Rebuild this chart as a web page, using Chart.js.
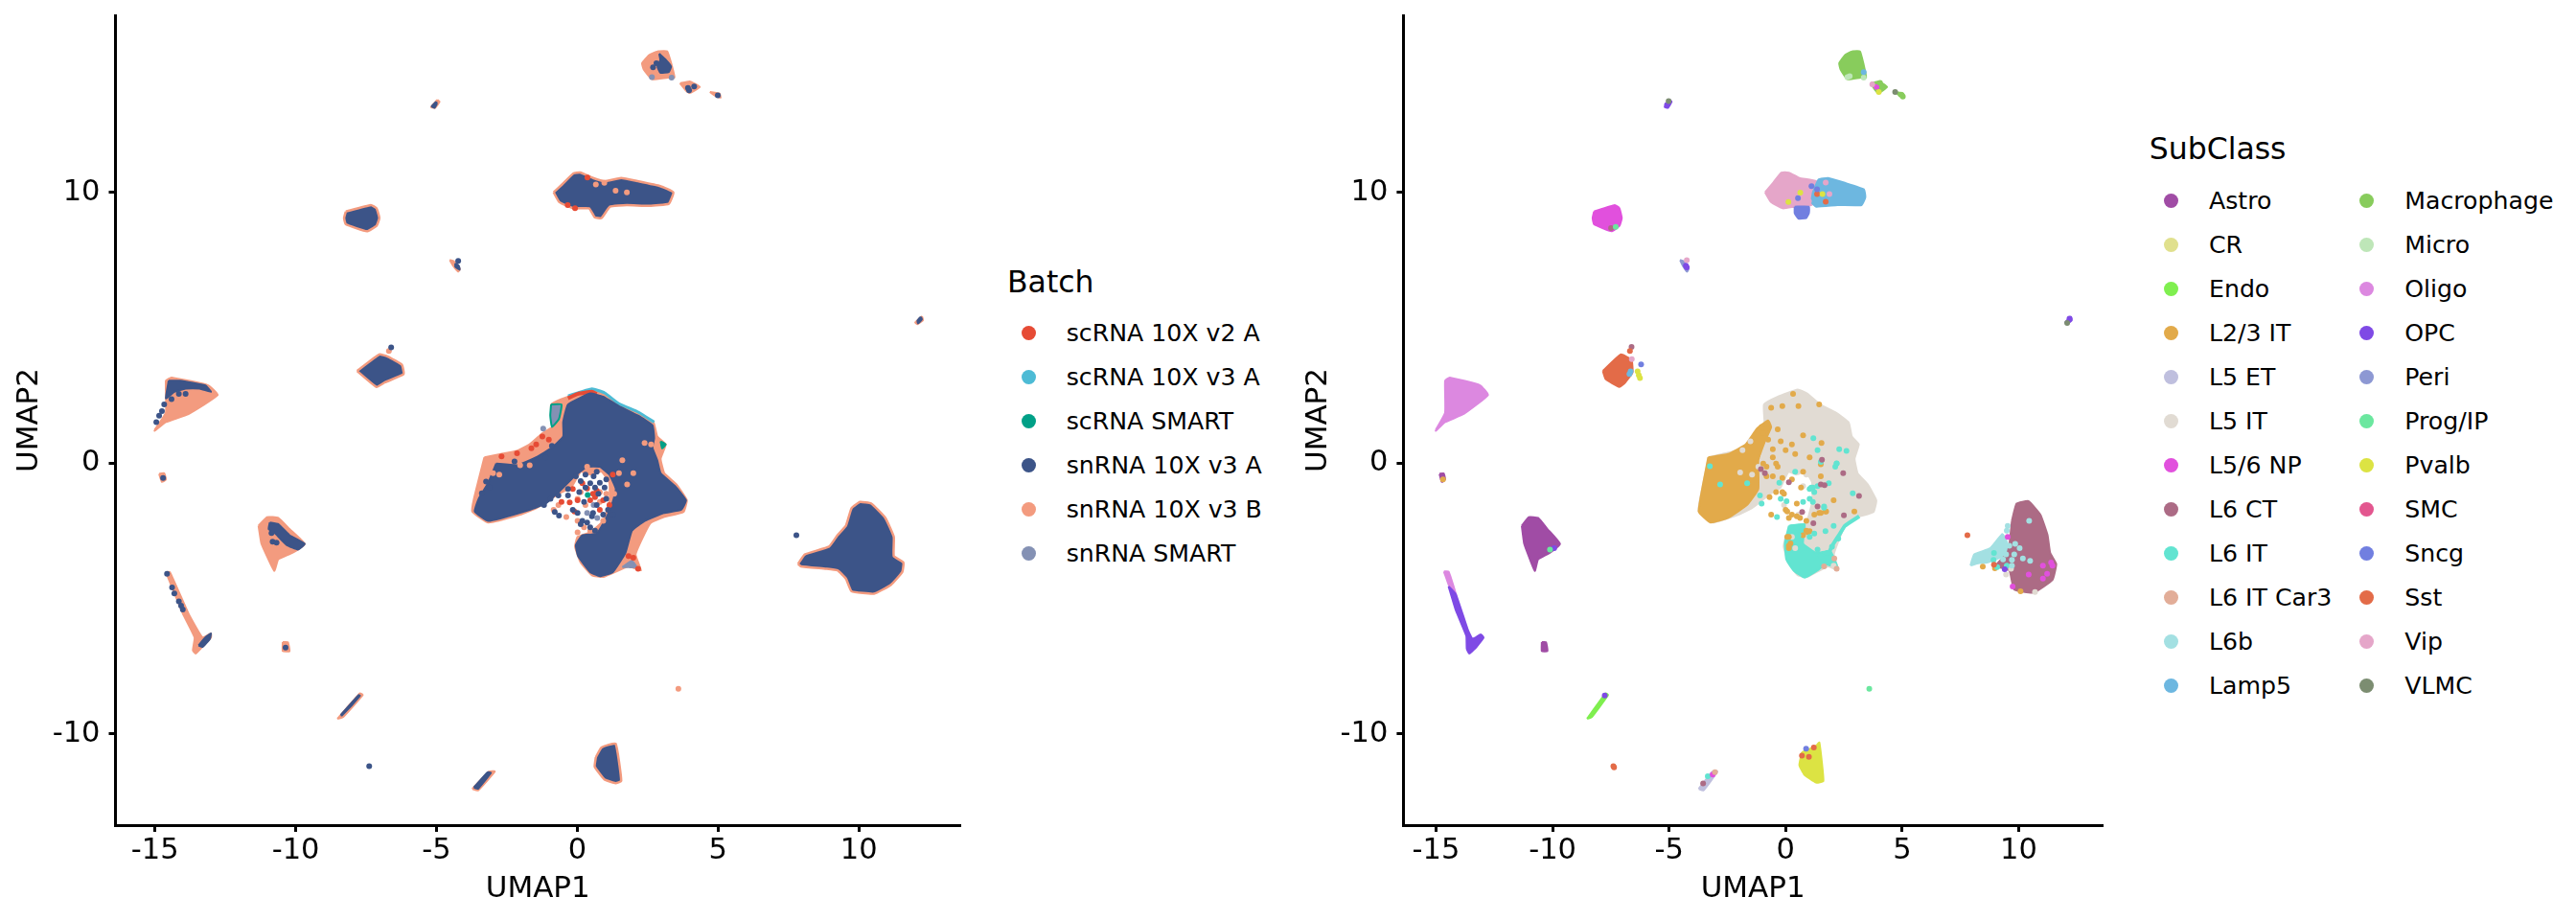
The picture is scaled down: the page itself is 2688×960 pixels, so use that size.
<!DOCTYPE html>
<html>
<head>
<meta charset="utf-8">
<title>UMAP by Batch and SubClass</title>
<script src="https://cdn.jsdelivr.net/npm/chart.js@4"></script>
<style>
  html, body { margin: 0; padding: 0; background: #fff; width: 2688px; height: 960px; overflow: hidden; }
  body { position: relative; font-family: "DejaVu Sans", sans-serif; color: #000; }
  canvas { position: absolute; top: 0; }
  .legend-title { position: absolute; font-size: 31.5px; line-height: 36px; white-space: nowrap; }
  .legend-dot { position: absolute; width: 15px; height: 15px; border-radius: 50%; }
  .legend-label { position: absolute; font-size: 25.2px; line-height: 30px; white-space: nowrap; }
</style>
</head>
<body>
<canvas id="batchChart" width="1040" height="960" style="left:0"></canvas>
<canvas id="subclassChart" width="880" height="960" style="left:1340px"></canvas>
<script>
// --- Categories and colours ---
const batchNames = ['scRNA 10X v2 A', 'scRNA 10X v3 A', 'scRNA SMART', 'snRNA 10X v3 A', 'snRNA 10X v3 B', 'snRNA SMART'];
const batchColors = ['#E64B35', '#4DBBD5', '#00A087', '#3C5488', '#F39B7F', '#8491B4'];
const subclassNames = ['Astro', 'CR', 'Endo', 'L2/3 IT', 'L5 ET', 'L5 IT', 'L5/6 NP', 'L6 CT', 'L6 IT', 'L6 IT Car3', 'L6b', 'Lamp5',
  'Macrophage', 'Micro', 'Oligo', 'OPC', 'Peri', 'Prog/IP', 'Pvalb', 'SMC', 'Sncg', 'Sst', 'Vip', 'VLMC'];
const subclassColors = ['#A04CA5', '#E0E08D', '#7FEF4F', '#E2AA4A', '#BFBFDE', '#E1DBD3', '#E150DD', '#AC6B85', '#62E4D1', '#E2AD98', '#A3E0E2', '#6DB7E0',
  '#88CC5C', '#BEE6B8', '#DC88E0', '#7F4AE5', '#8D98D3', '#6BE79F', '#DCE343', '#E3568F', '#717FE0', '#E36B48', '#E5A6C9', '#7C8D71'];
const xTickValues = [-15, -10, -5, 0, 5, 10];
const yTickValues = [-10, 0, 10];

// --- Cluster outlines, in UMAP units ---
const mainOuter = [[-3.30,0.22],[-2.71,0.34],[-2.14,0.46],[-1.69,0.70],[-1.24,1.11],[-0.90,1.34],[-0.93,2.17],[-0.33,2.46],[0.52,2.72],[0.92,2.58],[1.48,2.17],[2.16,1.87],[2.71,1.50],[2.84,0.99],[3.14,0.70],[2.96,0.17],[3.09,-0.37],[3.52,-0.78],[3.89,-1.37],[3.77,-1.80],[3.07,-1.99],[2.62,-2.19],[2.39,-2.60],[2.07,-3.37],[2.26,-3.96],[1.82,-3.81],[0.92,-4.20],[0.52,-4.14],[0.12,-3.67],[-0.08,-3.08],[0.01,-2.72],[0.46,-2.55],[0.92,-2.13],[1.14,-1.43],[1.14,-0.72],[0.86,-0.31],[0.46,-0.42],[0.12,-0.31],[-0.22,-0.90],[-0.67,-1.13],[-1.01,-1.37],[-1.46,-1.66],[-2.03,-1.90],[-3.16,-2.19],[-3.73,-1.78],[-3.67,-1.31]];
const mainBlue = [[-2.88,-0.01],[-2.14,-0.07],[-1.46,0.22],[-0.90,0.58],[-0.50,0.99],[-0.50,1.52],[-0.33,2.17],[0.46,2.58],[0.92,2.46],[1.48,2.11],[2.16,1.76],[2.67,1.40],[2.73,0.93],[2.67,0.58],[2.84,0.11],[2.96,-0.37],[3.47,-0.84],[3.86,-1.37],[3.69,-1.72],[3.07,-1.84],[2.39,-2.13],[1.94,-2.49],[1.71,-3.31],[1.26,-4.02],[0.80,-4.17],[0.46,-4.02],[0.03,-3.43],[-0.05,-3.02],[0.18,-2.66],[0.69,-2.60],[1.03,-2.02],[1.26,-1.43],[1.37,-0.95],[1.14,-0.42],[0.80,-0.13],[0.35,-0.13],[-0.10,-0.48],[-0.67,-1.07],[-1.12,-1.49],[-1.69,-1.72],[-3.16,-2.13],[-3.64,-1.78],[-3.50,-1.31],[-3.16,-0.72]];
const mainGreyTop = [[-0.93,2.17],[-0.56,2.17],[-0.65,1.64],[-0.90,1.34],[-0.96,1.77]];
const mainGreyTail = [[1.60,-3.84],[1.94,-3.61],[2.11,-3.84],[1.82,-3.84]];
const mainTealPatch = [[2.96,0.81],[3.14,0.70],[3.01,0.55]];
const mainRedRim = [[-0.33,2.40],[0.01,2.56],[0.52,2.64],[0.69,2.56]];
const mainCyanRim = [[-0.33,2.49],[0.52,2.75],[0.97,2.60],[1.48,2.20],[2.16,1.89],[2.73,1.52]];
const l23Region = [[-3.32,0.22],[-2.47,0.34],[-1.71,0.70],[-1.23,1.28],[-0.75,1.58],[-0.62,1.34],[-0.89,0.81],[-1.17,0.11],[-1.17,-0.95],[-1.65,-1.54],[-2.47,-2.02],[-3.22,-2.19],[-3.73,-1.78]];
const l6itRegion = [[0.14,-2.31],[0.82,-2.25],[0.75,-2.96],[1.30,-3.31],[1.92,-3.25],[2.22,-3.84],[1.71,-3.73],[1.37,-3.96],[0.82,-4.23],[0.34,-3.96],[0.03,-3.55],[-0.03,-2.96]];
const l6itRim = [[3.16,-1.96],[2.54,-2.31],[2.33,-2.60],[2.06,-2.96],[1.85,-3.31]];
const inhibOuter = [[-0.84,10.01],[-0.54,10.30],[-0.14,10.71],[0.10,10.74],[0.56,10.54],[0.96,10.42],[1.56,10.54],[2.16,10.42],[2.95,10.24],[3.41,10.01],[3.25,9.59],[2.55,9.51],[1.76,9.54],[1.16,9.48],[0.86,9.06],[0.62,9.09],[0.42,9.42],[-0.14,9.42],[-0.64,9.65]];
const vipRegion = [[-0.88,10.01],[-0.53,10.37],[-0.18,10.74],[0.14,10.74],[0.59,10.54],[1.31,10.42],[1.41,10.01],[1.11,9.54],[0.39,9.48],[-0.12,9.42],[-0.63,9.65]];
const lamp5Region = [[1.17,10.01],[1.41,10.48],[1.82,10.54],[2.54,10.36],[3.36,10.12],[3.42,9.83],[3.26,9.54],[2.23,9.54],[1.31,9.48],[1.11,9.65]];
const sncgRegion = [[0.39,9.48],[1.0,9.48],[1.0,9.25],[0.88,9.06],[0.55,9.04],[0.39,9.24]];
const macroOuter = [[2.85,15.22],[3.19,15.22],[3.35,14.72],[3.45,14.25],[3.21,14.25],[2.65,14.19],[2.36,14.55],[2.30,14.78],[2.55,15.08]];
const macroBlue = [[2.91,15.13],[3.15,14.90],[3.33,14.66],[3.25,14.46],[2.95,14.43],[2.85,14.66],[2.95,14.90]];
const macroSmallA = [[3.65,14.04],[3.99,14.11],[4.35,13.90],[3.99,13.68],[3.85,13.78]];
const macroSmallB = [[4.71,13.72],[5.05,13.66],[5.09,13.51],[4.91,13.57]];
const opcTopOuter = [[-4.97,13.43],[-4.89,13.36],[-5.05,13.13],[-5.19,13.16]];
const opcTopBlue = [[-5.01,13.36],[-4.99,13.28],[-5.07,13.13],[-5.17,13.19]];
const npOuter = [[-8.22,9.30],[-7.33,9.54],[-7.13,9.42],[-7.03,9.06],[-7.13,8.77],[-7.47,8.57],[-8.22,8.83],[-8.28,9.06]];
const periOuter = [[-4.53,7.51],[-4.39,7.47],[-4.17,7.18],[-4.23,7.08],[-4.41,7.30]];
const periBlue = [[-4.33,7.39],[-4.21,7.30],[-4.17,7.15],[-4.33,7.26]];
const farOuter = [[12.24,5.43],[12.28,5.29],[12.08,5.14],[12.0,5.2]];
const farBlue = [[12.2,5.41],[12.24,5.32],[12.1,5.17],[12.08,5.27]];
const sstOuter = [[-7.82,3.41],[-7.03,4.02],[-6.73,3.94],[-6.23,3.64],[-6.17,3.29],[-6.83,2.99],[-7.13,2.82]];
const sstRegion = [[-7.84,3.41],[-7.08,4.02],[-6.61,3.82],[-6.57,3.35],[-6.88,2.99],[-7.13,2.82],[-7.72,3.11]];
const oligoOuter = [[-15.01,1.23],[-14.61,1.87],[-14.61,3.05],[-14.41,3.17],[-13.11,2.88],[-12.77,2.52],[-13.81,1.82],[-14.61,1.52],[-15.01,1.20]];
const oligoBlue = [[-14.51,3.05],[-14.11,3.05],[-13.21,2.88],[-13.01,2.64],[-13.41,2.76],[-13.91,2.76],[-14.31,2.64],[-14.61,2.40]];
const l6ctOuter = [[7.84,-3.72],[8.08,-3.37],[8.94,-3.08],[9.24,-2.66],[9.54,-2.31],[9.74,-1.66],[10.04,-1.43],[10.44,-1.49],[10.94,-2.02],[11.24,-2.72],[11.24,-3.43],[11.58,-3.67],[11.54,-4.02],[11.14,-4.49],[10.54,-4.82],[9.74,-4.73],[9.54,-4.26],[9.24,-3.96],[8.84,-3.90],[7.94,-3.81]];
const l6ctRegion = [[9.71,-2.13],[9.91,-1.49],[10.42,-1.40],[10.93,-1.90],[11.24,-2.66],[11.35,-3.31],[11.61,-3.72],[11.45,-4.31],[10.63,-4.78],[9.81,-4.67],[9.60,-3.96],[9.0,-3.80],[9.25,-3.55],[9.50,-3.35],[9.60,-3.02]];
const l6bRegion = [[7.93,-3.78],[8.09,-3.37],[8.78,-3.14],[9.30,-2.61],[9.46,-2.84],[9.60,-3.20],[9.19,-3.49],[8.64,-3.67],[8.30,-3.69]];
const astroOuter = [[-11.32,-2.31],[-11.02,-1.99],[-10.62,-2.02],[-10.22,-2.43],[-9.68,-2.98],[-10.12,-3.31],[-10.62,-3.55],[-10.76,-3.98],[-11.02,-3.43],[-11.22,-2.96]];
const astroBlue = [[-10.92,-2.19],[-10.62,-2.25],[-10.22,-2.66],[-9.68,-2.98],[-9.92,-3.19],[-10.32,-3.02],[-10.72,-2.60],[-10.96,-2.43]];
const streakOuter = [[-14.61,-4.02],[-14.47,-4.02],[-13.81,-5.55],[-13.31,-6.44],[-13.01,-6.29],[-13.01,-6.44],[-13.21,-6.67],[-13.55,-7.03],[-13.65,-6.91],[-13.59,-6.44],[-14.01,-5.55]];
const streakBlue = [[-13.45,-6.73],[-13.21,-6.44],[-13.01,-6.29],[-13.05,-6.49],[-13.31,-6.79]];
const streakOligo = [[-14.66,-4.0],[-14.46,-4.0],[-14.11,-4.96],[-14.35,-4.73]];
const streakOpc = [[-14.46,-4.55],[-14.15,-4.84],[-13.64,-6.14],[-13.43,-6.49],[-13.08,-6.32],[-12.96,-6.44],[-13.33,-6.85],[-13.58,-7.03],[-13.68,-6.85],[-13.70,-6.38],[-14.15,-5.43]];
const tinyAstroA = [[-14.85,-0.39],[-14.67,-0.37],[-14.61,-0.60],[-14.75,-0.69]];
const tinyAstroB = [[-10.46,-6.61],[-10.28,-6.61],[-10.22,-6.94],[-10.46,-6.94]];
const endoOuter = [[-8.52,-9.44],[-7.72,-8.50],[-7.62,-8.56],[-8.32,-9.38]];
const endoBlue = [[-8.40,-9.30],[-7.76,-8.56],[-7.72,-8.59],[-8.36,-9.32]];
const l5etOuter = [[-3.73,-12.03],[-3.13,-11.39],[-2.93,-11.39],[-3.53,-12.09]];
const l5etBlue = [[-3.67,-11.98],[-3.19,-11.42],[-3.07,-11.44],[-3.53,-12.03]];
const pvalbOuter = [[0.66,-10.86],[0.86,-10.50],[1.36,-10.36],[1.56,-11.74],[1.36,-11.82],[0.96,-11.68],[0.62,-11.21]];
const pvalbRegion = [[0.70,-10.68],[1.31,-10.44],[1.45,-10.32],[1.62,-11.74],[1.31,-11.80],[0.80,-11.50],[0.59,-11.15]];

// --- Loose cells, in UMAP units ---
const batchBlueDots = [[-0.05,-0.48],[0.12,-0.66],[0.29,-0.90],[0.63,-0.90],[0.46,-0.74],[0.80,-0.72],[0.97,-0.90],[1.03,-0.60],[0.69,-0.31],[-0.80,-1.80],[-0.65,-1.93],[-0.16,-1.72],[0.01,-1.84],[0.18,-2.13],[0.35,-2.19],[0.56,-1.84],[0.69,-1.54],[1.03,-1.31],[-0.33,-0.95],[-0.67,-1.19],[-1.18,-1.54],[-0.95,-1.31],[0.52,-1.96],[0.07,-1.07],[0.24,-1.43],
  [0.46,-2.37],[0.63,-2.49],[0.12,-2.25],[1.09,-1.72],[1.26,-1.90],[0.92,-1.90],[0.75,-1.13],[-0.33,-1.19],[0.29,-0.42],[0.58,-0.48],
  [-3.24,-0.68],[-3.11,-0.90],[-3.39,-1.11],[-2.23,0.07],[-1.12,0.22],[-0.90,0.64],
  [2.69,14.63],[2.81,14.78],[3.97,13.78],[4.15,13.92],[3.93,13.87],[4.99,13.59],[-4.23,7.48],[-6.61,4.28],
  [-13.91,2.56],[-14.15,2.56],[-14.41,2.37],[-14.67,2.17],[-14.75,1.93],[-14.85,1.76],[-14.95,1.52],
  [-10.82,-2.90],[-10.68,-2.93],[-10.86,-2.58],[-14.57,-4.08],[-14.39,-4.59],[-14.31,-4.81],[-14.15,-5.10],[-14.07,-5.26],[-14.01,-5.40],
  [-14.71,-0.54],[-10.36,-6.81],[-7.39,-11.19],[7.78,-2.66]];
const batchRedDots = [[-0.56,-1.43],[-0.27,-1.45],[0.01,-1.37],[0.35,-0.93],[0.18,-0.74],[0.69,-1.01],[0.92,-1.37],[0.46,-1.37],[-0.10,-1.78],[-0.16,-0.95],[0.56,-1.13],[1.26,-0.42],[1.14,-1.54],[0.80,-1.72],[0.63,-1.25],
  [-1.01,0.87],[-1.24,0.99],[-1.46,0.70],[-1.63,0.55],[-2.14,0.37],[-2.69,0.25],[1.82,-3.43],[1.99,-3.49],[2.16,-3.90],[0.36,10.56],[-0.08,9.42],[-0.34,9.54]];
const batchSalmonDots = [[-0.39,-1.99],[-0.84,-1.72],[-0.67,-1.54],[0.80,-1.07],[0.35,-0.13],[0.01,-2.55],[1.31,-1.13],[1.60,0.11],[1.77,-0.78],[2.39,0.75],[2.62,0.70],[1.99,-0.37],[1.48,-0.37],[-2.77,-0.42],[-2.99,-0.37],[-2.03,-0.07],[-1.69,-0.07],
  [0.12,-1.07],[0.01,-1.31],[0.29,-1.54],[0.80,-1.43],[0.92,-2.13],[0.46,-2.49],[0.24,-2.37],[0.01,-2.13],[1.03,-1.13],
  [0.96,10.36],[0.66,10.30],[1.36,10.07],[1.76,10.01],[3.59,-8.33],[-6.69,4.15]];
const batchGreyDots = [[0.35,-1.84],[0.71,-2.02],[0.58,-1.54],[-1.21,1.28],[2.65,14.27],[3.35,14.25]];
const batchTealDots = [[0.37,-1.17]];

const l23Dots = [[-0.62,2.05],[-0.14,2.11],[0.55,2.11],[0.32,2.56],[1.44,2.17],[0.75,1.03],[0.27,0.70],[-0.34,1.25],[-0.21,0.81],[0,0.48],[1.54,0.75],[1.51,-0.04],[-0.14,-0.54],[-0.69,-1.25],[-0.62,-1.90],[0,-1.72],[-0.07,-1.13],[0.48,-1.49],[0.62,-2.02],[0.14,-2.02],[0.89,-2.49],[0.14,-2.72],[0.14,-3.14],[2.06,-1.37],[1.44,-1.84],[1.74,-1.78],[-0.55,0.52],[-0.82,-0.13],[-0.41,-0.01],[2.95,-1.78],[0.66,-0.90],[0.27,-0.60],[0.75,-0.31],[8.46,-3.82],[8.98,-3.88],[10.08,-4.73],[-14.70,-0.60],
  [-1.03,1.34],[-0.82,1.28],[-0.96,1.11],[-0.75,0.87],[-0.55,0.22],[-0.34,-0.13],[-0.82,-0.48],[-0.55,-0.48],[-0.96,-0.01],[-0.14,-1.07],[-0.41,-1.07],[0.27,-1.90],[0.96,-2.55],[0.75,-2.66],[1.03,-2.51],[0.21,-2.96],[0.07,-2.72],[0.14,-3.05],[1.23,-1.90],[0.89,-2.13],[1.51,-0.48],[0.41,0.34],[1.03,0.22],[0.07,-1.78],[0.48,-1.96],[1.51,-1.84],[1.71,-1.78]];
const l6itDots = [[-3.25,-0.11],[-2.81,-0.78],[-1.65,-0.74],[1.37,0.48],[1.51,0.05],[1.19,0.93],[2.19,-0.01],[2.61,0.46],[2.30,0.52],[1.17,-0.90],[1.03,-0.95],[-1.03,-1.49],[-0.37,-1.99],[0.04,-1.40],[-0.21,-1.31],[-1.10,-1.19],[1.71,-2.51],[2.06,-2.31],[2.26,-2.78],[1.99,-3.08],[0.41,-0.31],[2.88,-1.11],[1.65,-1.60],[-0.27,-0.72],
  [0.55,-2.66],[0.27,-2.37],[0.48,-2.37],[1.03,-2.72],[1.23,-2.60],[1.37,-3.19],[1.51,-3.43],[1.78,-3.31],[2.13,-0.13],[1.23,-1.07],[1.03,-1.31],[0.75,-1.43],[1.10,-0.90],[1.37,-0.84],[1.17,-1.43],[1.65,-1.64],[2.19,0],[1.85,-0.74],
  [8.94,-3.31],[8.92,-3.57],[9.08,-3.84],[9.49,-3.78],[-3.34,-11.56]];
const l5itDots = [[-1.44,-0.42],[-1.95,-0.34],[-1.17,-0.13],[-0.96,0.22],[-1.51,0.81],[-1.85,0.48],[0.89,-0.42],[0.75,-0.84],[0.41,-3.14],[0.27,-2.72],[2.06,-3.78],[-0.07,-1.54],[0.55,-1.90],[9.46,-4.11],[10.70,-4.76],[9.67,-3.90]];
const l6bDots = [[10.45,-2.13],[9.53,-2.31],[9.49,-2.49],[9.85,-2.98],[9.60,-3.05],[10.04,-3.14],[10.49,-3.61],[9.81,-3.37],[9.46,-3.37],[9.71,-3.57],[10.18,-3.52],[9.33,-3.55],[9.71,-3.78]];
const l6ctDots = [[-1.06,-0.22],[-0.89,-0.37],[2.47,-0.37],[1.51,-0.78],[1.67,-0.81],[3.15,-1.21],[0.71,-1.80],[1.19,-2.22],[2.50,-1.92],[1.37,-1.60],[0.14,-0.70],[1.56,0.13],[-6.61,4.30],[-7.49,8.69],[-3.54,-11.83]];
const npDots = [[9.53,-2.72],[11.04,-4.26],[10.43,-4.11],[11.39,-3.67],[11.45,-3.78],[11.22,-4.08],[11.04,-3.78],[9.74,-4.55],[-3.13,-11.50],[3.9,13.9]];
const car3Dots = [[1.65,-3.81],[2.19,-3.90],[2.09,-3.52],[-3.03,-11.41]];
const sstDots = [[7.80,-2.66],[8.94,-3.75],[1.35,9.95],[1.72,9.66],[1.21,-10.50],[0.70,-10.80],[1.0,-10.85],[-7.39,-11.19],[-7.36,-11.24],[-6.68,4.15]];
const sncgDots = [[1.35,10.12],[1.11,10.24],[0.53,9.80],[-6.20,3.65],[0.88,-10.55]];
const vipDots = [[1.72,10.37],[1.88,9.95],[1.0,9.68],[-6.60,3.85],[3.72,14.0],[-4.24,7.50]];
const pvalbDots = [[1.58,9.95],[0.12,9.65],[0.63,10.0],[-6.25,3.15],[-6.35,3.40],[-6.30,3.25],[4.0,13.72]];
const opcDots = [[9.40,-3.92],[-9.93,-3.14],[-7.76,-8.58],[-4.28,7.30],[-4.24,7.24],[12.18,5.34],[-5.09,13.24]];
const vlmcDots = [[4.70,13.72],[12.08,5.18],[-5.02,13.38]];
const macroDots = [[4.15,13.92],[4.05,14.05],[4.95,13.62],[5.03,13.55]];
const microDots = [[2.65,14.27],[3.35,14.25],[2.75,14.30]];
const progDots = [[3.59,-8.33],[-10.11,-3.19],[-7.29,8.73]];
const lamp5Dots = [[-6.65,3.40],[-6.70,3.30],[3.35,14.45]];

// --- Helpers turning the arrays above into Chart.js datasets ---
const toPoints = pts => pts.map(([x, y]) => ({ x, y }));

function blob(pts, color, rimColor, rimWidth = 2) {
    return {
        data: toPoints(pts.concat([pts[0]])),
        showLine: true, fill: 'shape', tension: 0.12,
        backgroundColor: color, borderColor: rimColor || color, borderWidth: rimWidth,
        borderJoinStyle: 'round', pointRadius: 0
    };
}

function stroke(pts, color, width) {
    return {
        data: toPoints(pts), showLine: true, fill: false, tension: 0.12,
        borderColor: color, borderWidth: width, pointRadius: 0
    };
}

function dots(pts, color, radius = 3) {
    return {
        data: toPoints(pts), showLine: false,
        pointRadius: radius, pointBackgroundColor: color, pointBorderWidth: 0
    };
}

const [red, cyan, teal, blue, salmon, grey] = batchColors;
const sub = name => subclassColors[subclassNames.indexOf(name)];

// listed bottom layer first
const batchLayers = [
    blob(mainOuter, salmon), stroke(mainCyanRim, cyan, 3), stroke(mainRedRim, red, 4),
    blob(mainGreyTop, grey, teal), blob(mainGreyTail, grey), blob(mainTealPatch, teal), blob(mainBlue, blue),
    blob(inhibOuter, blue, salmon, 2.5), blob(npOuter, blue, salmon, 2.5), blob(sstOuter, blue, salmon, 2.5),
    blob(l6ctOuter, blue, salmon, 2.5), blob(pvalbOuter, blue, salmon, 2.5),
    blob(macroOuter, salmon), blob(macroBlue, blue), blob(macroSmallA, salmon), blob(macroSmallB, salmon),
    blob(opcTopOuter, salmon), blob(opcTopBlue, blue), blob(periOuter, salmon), blob(periBlue, blue),
    blob(farOuter, salmon), blob(farBlue, blue), blob(oligoOuter, salmon), blob(oligoBlue, blue),
    blob(astroOuter, salmon), blob(astroBlue, blue), blob(streakOuter, salmon), blob(streakBlue, blue),
    blob(tinyAstroA, salmon), blob(tinyAstroB, salmon), blob(endoOuter, salmon), blob(endoBlue, blue),
    blob(l5etOuter, salmon), blob(l5etBlue, blue),
    dots(batchSalmonDots, salmon), dots(batchRedDots, red), dots(batchGreyDots, grey), dots(batchBlueDots, blue), dots(batchTealDots, teal)
];

const subclassLayers = [
    blob(mainOuter, sub('L5 IT')), blob(l23Region, sub('L2/3 IT')), blob(l6itRegion, sub('L6 IT')), stroke(l6itRim, sub('L6 IT'), 4),
    blob(vipRegion, sub('Vip')), blob(lamp5Region, sub('Lamp5')), blob(sncgRegion, sub('Sncg')),
    blob(npOuter, sub('L5/6 NP')), blob(sstRegion, sub('Sst')), blob(l6bRegion, sub('L6b')), blob(l6ctRegion, sub('L6 CT')),
    blob(pvalbRegion, sub('Pvalb')), blob(macroOuter, sub('Macrophage')), blob(macroSmallA, sub('Macrophage')), blob(macroSmallB, sub('Macrophage')),
    blob(opcTopOuter, sub('OPC')), blob(periOuter, sub('Peri')), blob(farOuter, sub('OPC')), blob(oligoOuter, sub('Oligo')),
    blob(astroOuter, sub('Astro')), blob(streakOligo, sub('Oligo')), blob(streakOpc, sub('OPC')),
    blob(tinyAstroA, sub('Astro')), blob(tinyAstroB, sub('Astro')), blob(endoOuter, sub('Endo')), blob(l5etOuter, sub('L5 ET')),
    dots(l5itDots, sub('L5 IT')), dots(l23Dots, sub('L2/3 IT')), dots(l6itDots, sub('L6 IT')), dots(l6bDots, sub('L6b')), dots(l6ctDots, sub('L6 CT')), dots(npDots, sub('L5/6 NP')),
    dots(car3Dots, sub('L6 IT Car3')), dots(sstDots, sub('Sst')), dots(sncgDots, sub('Sncg')), dots(vipDots, sub('Vip')),
    dots(pvalbDots, sub('Pvalb')), dots(opcDots, sub('OPC')), dots(vlmcDots, sub('VLMC')), dots(macroDots, sub('Macrophage')),
    dots(microDots, sub('Micro')), dots(progDots, sub('Prog/IP')), dots(lamp5Dots, sub('Lamp5'))
];

// --- Charts ---
function axisOptions(values, title, extra) {
    return {
        grid: { drawOnChartArea: false, tickLength: 7, tickWidth: 3, tickColor: '#000' },
        border: { color: '#000', width: 3 },
        ticks: { color: '#000', font: { family: "'DejaVu Sans'", size: 30.5 }, padding: extra.tickPad, autoSkip: false, maxRotation: 0, includeBounds: false },
        title: { display: true, text: title, color: '#000', font: { family: "'DejaVu Sans'", size: 31 }, padding: extra.titlePad },
        afterBuildTicks: scale => { scale.ticks = values.map(v => ({ value: v })); },
        afterFit: extra.afterFit
    };
}

function drawPanel(id, layers, axisWidth, rightPad, titleLeft) {
    new Chart(document.getElementById(id), {
        type: 'scatter',
        // Chart.js paints dataset 0 last, so flip to keep bottom-first order
        data: { datasets: layers.slice().reverse() },
        options: {
            responsive: false, animation: false, events: [],
            layout: { padding: { top: 16, right: rightPad, left: 0, bottom: 0 } },
            plugins: { legend: { display: false }, tooltip: { enabled: false } },
            scales: {
                x: {
                    type: 'linear', min: -16.4, max: 13.6,
                    ...axisOptions(xTickValues, 'UMAP1', {
                        tickPad: 2, titlePad: { top: 0, bottom: 13 },
                        afterFit: s => { s.height = 99; s.paddingLeft = 0; s.paddingRight = 0; }
                    })
                },
                y: {
                    type: 'linear', min: -13.37, max: 16.55,
                    ...axisOptions(yTickValues, 'UMAP2', {
                        tickPad: 9, titlePad: { top: titleLeft, bottom: 0 },
                        afterFit: s => { s.width = axisWidth; s.paddingTop = 0; s.paddingBottom = 0; }
                    })
                }
            }
        }
    });
}

drawPanel('batchChart', batchLayers, 120.5, 38, 12);
drawPanel('subclassChart', subclassLayers, 124.4, 26, 17);

// --- Legends ---
function addEl(cls, left, top, text, color) {
    const el = document.createElement('div');
    el.className = cls;
    el.style.left = left + 'px';
    el.style.top = top + 'px';
    if (text) el.textContent = text;
    if (color) el.style.background = color;
    document.body.appendChild(el);
}

function addLegendColumn(names, colors, dotX, labelX, firstY) {
    names.forEach((name, i) => {
        const y = firstY + i * 46;
        addEl('legend-dot', dotX - 7.5, y - 7.5, '', colors[i]);
        addEl('legend-label', labelX, y - 14, name);
    });
}

addEl('legend-title', 1051, 276, 'Batch');
addLegendColumn(batchNames, batchColors, 1073, 1112.7, 347);
addEl('legend-title', 2242.7, 137, 'SubClass');
addLegendColumn(subclassNames.slice(0, 12), subclassColors.slice(0, 12), 2265, 2305, 209);
addLegendColumn(subclassNames.slice(12), subclassColors.slice(12), 2469, 2509.3, 209);
</script>
</body>
</html>
